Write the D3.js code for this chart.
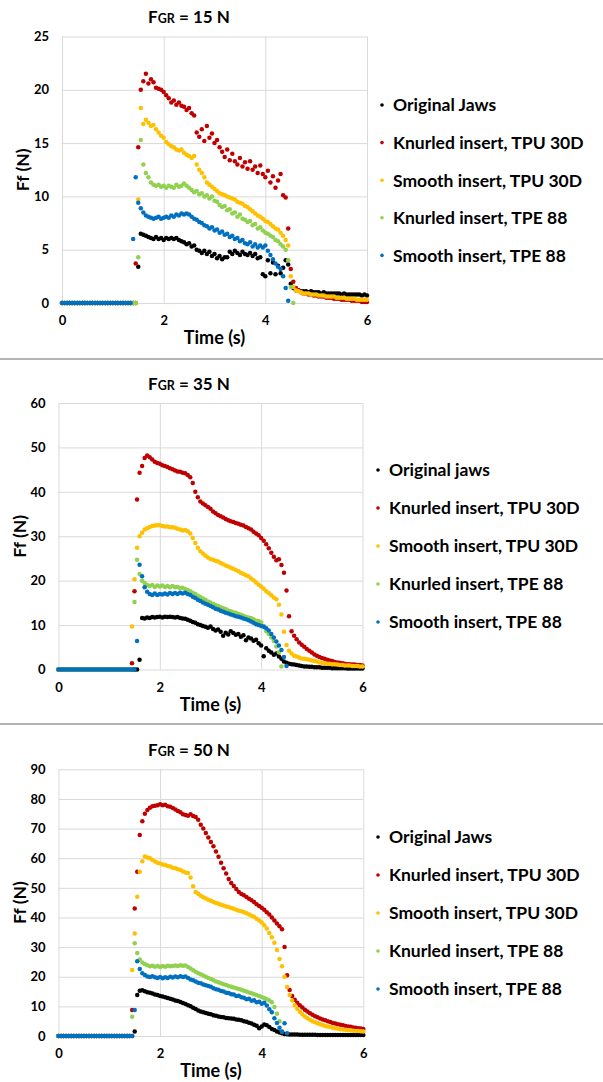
<!DOCTYPE html>
<html>
<head>
<meta charset="utf-8">
<script src="https://cdn.jsdelivr.net/npm/d3@7"></script>
<style>
  body { margin: 0; background: #fff; }
  svg text { font-family: Lato, 'Open Sans', sans-serif; font-weight: bold; fill: #000; }
</style>
</head>
<body>
<div id="chart"></div>
<script>
// sample times (s), one reading every 0.05 s
const time = [
  0, 0.05, 0.1, 0.15, 0.2, 0.25, 0.3, 0.35, 0.4, 0.45,
  0.5, 0.55, 0.6, 0.65, 0.7, 0.75, 0.8, 0.85, 0.9, 0.95,
  1, 1.05, 1.1, 1.15, 1.2, 1.25, 1.3, 1.35, 1.4, 1.45,
  1.5, 1.55, 1.6, 1.65, 1.7, 1.75, 1.8, 1.85, 1.9, 1.95,
  2, 2.05, 2.1, 2.15, 2.2, 2.25, 2.3, 2.35, 2.4, 2.45,
  2.5, 2.55, 2.6, 2.65, 2.7, 2.75, 2.8, 2.85, 2.9, 2.95,
  3, 3.05, 3.1, 3.15, 3.2, 3.25, 3.3, 3.35, 3.4, 3.45,
  3.5, 3.55, 3.6, 3.65, 3.7, 3.75, 3.8, 3.85, 3.9, 3.95,
  4, 4.05, 4.1, 4.15, 4.2, 4.25, 4.3, 4.35, 4.4, 4.45,
  4.5, 4.55, 4.6, 4.65, 4.7, 4.75, 4.8, 4.85, 4.9, 4.95,
  5, 5.05, 5.1, 5.15, 5.2, 5.25, 5.3, 5.35, 5.4, 5.45,
  5.5, 5.55, 5.6, 5.65, 5.7, 5.75, 5.8, 5.85, 5.9, 5.95,
  6
]

const xTicks = [0, 2, 4, 6]
const yTicks15 = [0, 5, 10, 15, 20, 25]
const yTicks35 = [0, 10, 20, 30, 40, 50, 60]
const yTicks50 = [0, 10, 20, 30, 40, 50, 60, 70, 80, 90]

const names15 = ['Original Jaws', 'Knurled insert, TPU 30D', 'Smooth insert, TPU 30D', 'Knurled insert, TPE 88', 'Smooth insert, TPE 88']
const names35 = ['Original jaws', 'Knurled insert, TPU 30D', 'Smooth insert, TPU 30D', 'Knurled insert, TPE 88', 'Smooth insert, TPE 88']
const names50 = ['Original Jaws', 'Knurled insert, TPU 30D', 'Smooth insert, TPU 30D', 'Knurled insert, TPE 88', 'Smooth insert, TPE 88']

const colors = ['#000000', '#c00000', '#ffc000', '#92d050', '#0070c0']

// ---- FGR = 15 N ----
const jaws15 = [
  0, 0, 0, 0, 0, 0, 0, 0, 0, 0, 0, 0, 0, 0, 0, 0, 0, 0, 0, 0, 0, 0, 0, 0, 0, 0, 0, 0, 0, 0,
  3.4, 6.5, 6.4, 6.3, 6.2, 6.1, 6.0, 6.2, 6.0, 6.1,
  5.9, 6.1, 6.0, 6.1, 6.0, 6.1, 5.9, 5.8, 5.7, 5.5,
  5.6, 5.3, 5.4, 5.0, 4.9, 4.7, 4.9, 4.6, 4.8, 4.4,
  4.6, 4.2, 4.4, 4.1, 4.3, 4.3, 4.8, 4.6, 4.9, 4.7,
  4.5, 4.8, 4.6, 4.5, 4.7, 4.4, 4.6, 4.2, 4.3, 2.7,
  2.5, 4.0, 2.8, 3.8, 2.7, 3.5, 2.8, 3.3, 4.0, 3.6,
  1.8, 1.4, 1.2, 1.2, 1.1, 1.1, 1.1, 1.0, 1.1, 1.0,
  1.0, 1.0, 0.9, 1.0, 0.9, 0.9, 0.9, 0.9, 0.9, 0.9,
  0.8, 0.9, 0.8, 0.8, 0.8, 0.8, 0.8, 0.8, 0.7, 0.8,
  0.7
]
const knurledTpu15 = [
  0, 0, 0, 0, 0, 0, 0, 0, 0, 0, 0, 0, 0, 0, 0, 0, 0, 0, 0, 0, 0, 0, 0, 0, 0, 0, 0, 0, 0,
  3.7, 14.6, 20.0, 20.8, 21.5, 20.6, 21.0, 20.7, 20.2, 20.1, 20.0,
  19.8, 19.5, 19.2, 18.8, 19.0, 18.6, 18.8, 18.5, 18.4, 18.1,
  18.3, 17.8, 17.6, 16.0, 15.6, 16.3, 15.2, 16.6, 15.5, 15.9,
  15.0, 15.3, 14.6, 14.2, 13.7, 14.4, 13.4, 14.0, 13.3, 13.0,
  13.6, 12.8, 13.2, 12.6, 13.3, 12.5, 12.8, 12.2, 12.9, 12.1,
  11.8, 12.4, 11.3, 11.9, 10.8, 11.5, 12.1, 10.1, 9.9, 7.0,
  3.2, 2.0, 1.4, 1.2, 1.0, 0.9, 0.9, 0.8, 0.8, 0.7,
  0.7, 0.6, 0.6, 0.6, 0.5, 0.5, 0.5, 0.4, 0.4, 0.4,
  0.3, 0.3, 0.3, 0.3, 0.2, 0.2, 0.2, 0.2, 0.1, 0.1,
  0.1
]
const smoothTpu15 = [
  0, 0, 0, 0, 0, 0, 0, 0, 0, 0, 0, 0, 0, 0, 0, 0, 0, 0, 0, 0, 0, 0, 0, 0, 0, 0, 0, 0, 0, 0,
  9.7, 18.3, 16.8, 17.2, 16.9, 16.6, 16.7, 16.3, 16.0, 15.7,
  15.5, 15.1, 14.9, 14.7, 14.6, 14.4, 14.3, 14.4, 14.1, 13.9,
  13.8, 13.6, 13.8, 13.0, 12.5, 12.2, 11.8, 11.3, 11.1, 10.9,
  10.7, 10.5, 10.3, 10.2, 10.1, 10.0, 9.9, 9.8, 9.7, 9.5,
  9.4, 9.3, 9.1, 9.0, 8.8, 8.6, 8.4, 8.2, 8.1, 7.9,
  7.7, 7.6, 7.4, 7.2, 7.0, 6.9, 6.6, 6.3, 5.9, 5.4,
  2.5, 1.5, 1.2, 1.1, 1.0, 0.9, 0.9, 0.9, 0.8, 0.8,
  0.8, 0.7, 0.7, 0.7, 0.6, 0.6, 0.6, 0.6, 0.5, 0.5,
  0.5, 0.5, 0.4, 0.4, 0.4, 0.4, 0.3, 0.3, 0.3, 0.3,
  0.3
]
const knurledTpe15 = [
  0, 0, 0, 0, 0, 0, 0, 0, 0, 0, 0, 0, 0, 0, 0, 0, 0, 0, 0, 0, 0, 0, 0, 0, 0, 0, 0, 0, 0, 0,
  4.3, 15.3, 13.0, 12.2, 11.8, 11.3, 11.1, 11.0, 11.1, 10.9,
  11.0, 10.8, 11.0, 10.9, 10.8, 11.1, 10.9, 11.0, 11.2, 11.0,
  10.8, 10.6, 10.4, 10.5, 10.2, 10.3, 10.0, 10.1, 9.8, 10.0,
  9.6, 9.5, 9.2, 9.0, 9.1, 8.7, 8.8, 8.4, 8.5, 8.1,
  8.3, 7.9, 7.8, 7.6, 7.7, 7.3, 7.4, 7.0, 7.1, 6.8,
  6.6, 6.5, 6.3, 6.2, 5.9, 5.8, 5.5, 5.3, 5.0, 4.0,
  1.5, 0.0
]
const smoothTpe15 = [
  0, 0, 0, 0, 0, 0, 0, 0, 0, 0, 0, 0, 0, 0, 0, 0, 0, 0, 0, 0, 0, 0, 0, 0, 0, 0, 0, 0,
  6.0, 11.8, 9.4, 8.9, 8.5, 8.2, 8.1, 8.0, 7.9, 8.0, 8.1, 7.9,
  8.0, 8.1, 8.0, 8.2, 8.1, 8.3, 8.2, 8.4, 8.3, 8.4,
  8.3, 8.1, 7.9, 7.8, 7.6, 7.5, 7.3, 7.2, 7.0, 7.1,
  6.8, 6.9, 6.6, 6.7, 6.4, 6.5, 6.2, 6.3, 6.0, 6.1,
  5.8, 5.9, 5.6, 5.5, 5.7, 5.3, 5.5, 5.2, 5.4, 5.2,
  5.4, 4.9, 4.5, 4.1, 3.7, 3.4, 3.2, 2.5, 1.4, 0.2
]

// ---- FGR = 35 N ----
const jaws35 = [
  0, 0, 0, 0, 0, 0, 0, 0, 0, 0, 0, 0, 0, 0, 0, 0, 0, 0, 0, 0, 0, 0, 0, 0, 0, 0, 0, 0, 0, 0, 0, 0,
  2.2, 11.6, 11.5, 11.7, 11.6, 11.8, 11.7, 11.8,
  11.9, 11.7, 11.9, 11.8, 11.9, 11.8, 11.7, 11.8, 11.6, 11.5,
  11.4, 11.2, 11.0, 10.7, 10.5, 10.2, 10.0, 9.8, 9.6, 9.4,
  9.7, 9.1, 8.8, 9.0, 8.5, 7.6, 8.3, 7.9, 8.6, 8.2,
  7.8, 8.0, 7.4, 7.7, 6.6, 7.2, 7.0, 6.5, 6.7, 5.9,
  5.4, 3.0, 4.8, 4.2, 3.8, 3.3, 3.6, 2.9, 2.4, 1.8,
  1.5, 1.3, 1.2, 1.1, 1.0, 0.9, 0.8, 0.7, 0.7, 0.6,
  0.6, 0.5, 0.5, 0.5, 0.4, 0.4, 0.4, 0.4, 0.3, 0.3,
  0.3, 0.3, 0.3, 0.3, 0.2, 0.2, 0.2, 0.2, 0.2, 0.2,
  0.2
]
const knurledTpu35 = [
  0, 0, 0, 0, 0, 0, 0, 0, 0, 0, 0, 0, 0, 0, 0, 0, 0, 0, 0, 0, 0, 0, 0, 0, 0, 0, 0, 0, 0,
  1.4, 17.6, 38.3, 44.3, 45.8, 47.6, 48.2, 47.8, 47.3, 46.8, 46.5,
  46.3, 46.0, 45.8, 45.6, 45.3, 45.1, 44.8, 44.6, 44.5, 44.3,
  44.2, 43.8, 43.3, 42.0, 40.0, 38.8, 37.8, 37.4, 37.0, 36.6,
  36.2, 35.6, 35.2, 34.8, 34.5, 34.2, 33.9, 33.6, 33.4, 33.2,
  33.0, 32.8, 32.6, 32.4, 32.1, 31.8, 31.5, 31.0, 30.6, 30.2,
  29.6, 29.0, 28.2, 27.3, 26.3, 25.4, 24.6, 24.8, 23.5, 21.8,
  17.8, 12.0, 8.6, 7.6, 6.8, 6.1, 5.6, 5.1, 4.6, 4.2,
  3.8, 3.4, 3.1, 2.8, 2.6, 2.4, 2.2, 2.0, 1.9, 1.7,
  1.6, 1.5, 1.4, 1.3, 1.2, 1.2, 1.1, 1.1, 1.0, 1.0,
  0.9
]
const smoothTpu35 = [
  0, 0, 0, 0, 0, 0, 0, 0, 0, 0, 0, 0, 0, 0, 0, 0, 0, 0, 0, 0, 0, 0, 0, 0, 0, 0, 0, 0, 0,
  9.7, 20.3, 27.4, 30.0, 30.8, 31.5, 31.8, 32.1, 32.3, 32.4, 32.5,
  32.5, 32.3, 32.2, 32.2, 32.0, 32.0, 31.9, 31.7, 31.5, 31.3,
  31.4, 31.1, 30.6, 29.6, 28.5, 27.4, 26.6, 26.1, 25.6, 25.2,
  24.9, 24.7, 24.5, 24.3, 24.0, 23.7, 23.4, 23.2, 22.9, 22.7,
  22.4, 22.1, 21.8, 21.5, 21.2, 21.0, 20.5, 20.1, 19.6, 19.1,
  18.7, 18.2, 17.6, 17.2, 16.7, 16.2, 15.8, 14.6, 12.4, 8.5,
  5.5, 4.2, 3.6, 3.1, 2.9, 2.7, 2.5, 2.4, 2.3, 2.2,
  2.0, 1.9, 1.8, 1.6, 1.5, 1.4, 1.3, 1.3, 1.2, 1.2,
  1.1, 1.0, 1.0, 0.9, 0.9, 0.9, 0.8, 0.8, 0.8, 0.7,
  0.7
]
const knurledTpe35 = [
  0, 0, 0, 0, 0, 0, 0, 0, 0, 0, 0, 0, 0, 0, 0, 0, 0, 0, 0, 0, 0, 0, 0, 0, 0, 0, 0, 0, 0, 0,
  15.2, 24.7, 21.5, 20.0, 19.5, 19.0, 18.8, 19.0, 18.6, 18.9,
  18.7, 18.9, 18.6, 18.8, 18.5, 18.8, 18.5, 18.6, 18.3, 18.4,
  18.1, 17.9, 17.6, 17.3, 17.0, 16.6, 16.3, 16.0, 15.7, 15.3,
  15.1, 14.8, 14.5, 14.3, 14.0, 13.8, 13.6, 13.3, 13.1, 12.9,
  12.8, 12.5, 12.3, 12.1, 11.9, 11.7, 11.6, 11.3, 11.0, 10.9,
  10.6, 9.8, 8.6, 8.0, 7.2, 6.4, 5.2, 3.9, 0.7
]
const smoothTpe35 = [
  0, 0, 0, 0, 0, 0, 0, 0, 0, 0, 0, 0, 0, 0, 0, 0, 0, 0, 0, 0, 0, 0, 0, 0, 0, 0, 0, 0, 0, 0, 0,
  6.4, 23.6, 21.0, 18.5, 17.5, 17.0, 16.8, 17.1, 16.8,
  17.0, 16.9, 17.1, 16.9, 17.2, 17.0, 17.2, 17.0, 17.3, 17.1,
  17.3, 17.0, 16.8, 16.4, 16.1, 15.7, 15.4, 15.1, 14.8, 14.6,
  14.3, 14.0, 13.7, 13.5, 13.2, 13.0, 12.8, 12.6, 12.4, 12.2,
  12.0, 11.9, 11.7, 11.5, 11.3, 11.1, 10.8, 10.5, 10.2, 10.0,
  9.8, 9.6, 9.3, 8.8, 8.0, 7.2, 6.3, 5.4, 4.4, 2.8,
  0.8
]

// ---- FGR = 50 N ----
const jaws50 = [
  0, 0, 0, 0, 0, 0, 0, 0, 0, 0, 0, 0, 0, 0, 0, 0, 0, 0, 0, 0, 0, 0, 0, 0, 0, 0, 0, 0, 0, 0,
  1.5, 13.8, 15.3, 15.4, 15.1, 14.8, 14.6, 14.3, 14.0, 13.8,
  13.5, 13.3, 13.1, 12.8, 12.6, 12.3, 12.0, 11.8, 11.5, 11.1,
  10.8, 10.4, 10.0, 9.5, 9.1, 8.6, 8.3, 8.0, 7.8, 7.5,
  7.3, 7.0, 6.8, 6.6, 6.4, 6.3, 6.1, 6.0, 5.9, 5.8,
  5.6, 5.5, 5.3, 5.0, 4.8, 4.5, 4.2, 3.8, 3.5, 2.6,
  3.2, 3.9, 3.6, 3.0, 2.4, 2.0, 1.5, 1.2, 0.9, 0.7,
  0.6, 0.5, 0.5, 0.5, 0.5, 0.4, 0.4, 0.4, 0.4, 0.4,
  0.4, 0.4, 0.3, 0.3, 0.3, 0.3, 0.3, 0.3, 0.3, 0.3,
  0.3, 0.3, 0.3, 0.3, 0.3, 0.3, 0.3, 0.3, 0.3, 0.3,
  0.3
]
const knurledTpu50 = [
  0, 0, 0, 0, 0, 0, 0, 0, 0, 0, 0, 0, 0, 0, 0, 0, 0, 0, 0, 0, 0, 0, 0, 0, 0, 0, 0, 0, 0,
  8.8, 43.0, 55.4, 67.8, 72.5, 75.0, 76.3, 77.0, 77.5, 77.7, 77.9,
  78.2, 77.9, 78.0, 77.5, 77.4, 76.9, 76.4, 75.9, 75.5, 74.8,
  74.6, 74.3, 74.8, 74.2, 73.9, 73.0, 71.3, 70.0, 68.5, 67.0,
  65.5, 64.0, 62.3, 60.5, 58.5, 56.6, 54.8, 53.0, 51.6, 50.6,
  49.6, 48.6, 47.9, 47.5, 46.9, 46.3, 45.8, 45.2, 44.5, 43.9,
  43.3, 42.6, 41.8, 41.0, 40.0, 39.0, 38.0, 37.0, 36.0, 30.0,
  20.5, 15.5, 13.5, 12.2, 11.2, 10.4, 9.6, 8.9, 8.3, 7.7,
  7.2, 6.7, 6.3, 5.9, 5.6, 5.3, 5.0, 4.7, 4.4, 4.2,
  4.0, 3.8, 3.6, 3.4, 3.2, 3.1, 2.9, 2.8, 2.6, 2.5,
  2.4
]
const smoothTpu50 = [
  0, 0, 0, 0, 0, 0, 0, 0, 0, 0, 0, 0, 0, 0, 0, 0, 0, 0, 0, 0, 0, 0, 0, 0, 0, 0, 0, 0, 0,
  22.3, 34.6, 47.0, 55.4, 59.0, 60.6, 60.2, 60.0, 59.4, 58.9, 58.5,
  58.2, 57.9, 57.7, 57.4, 57.2, 56.8, 56.6, 56.3, 56.0, 55.5,
  55.2, 55.0, 53.5, 50.5, 48.6, 48.0, 47.3, 46.8, 46.4, 46.0,
  45.6, 45.2, 44.9, 44.6, 44.3, 44.0, 43.7, 43.5, 43.2, 42.9,
  42.6, 42.3, 42.1, 41.8, 41.4, 41.0, 40.6, 40.2, 39.6, 39.0,
  38.3, 37.4, 36.3, 34.8, 33.3, 31.5, 29.0, 26.0, 23.5, 20.0,
  16.5, 13.8, 12.0, 10.4, 9.2, 8.2, 7.3, 6.6, 6.0, 5.5,
  5.0, 4.6, 4.3, 4.0, 3.7, 3.4, 3.2, 3.0, 2.8, 2.6,
  2.5, 2.3, 2.2, 2.1, 2.0, 1.9, 1.8, 1.7, 1.7, 1.6,
  1.5
]
const knurledTpe50 = [
  0, 0, 0, 0, 0, 0, 0, 0, 0, 0, 0, 0, 0, 0, 0, 0, 0, 0, 0, 0, 0, 0, 0, 0, 0, 0, 0, 0, 0,
  6.5, 31.3, 28.0, 25.8, 24.8, 24.3, 23.9, 23.5, 23.7, 23.4, 23.6,
  23.3, 23.6, 23.4, 23.7, 23.5, 23.6, 23.8, 23.6, 23.9, 23.7,
  23.8, 23.3, 22.8, 22.2, 21.7, 21.2, 20.8, 20.4, 20.0, 19.6,
  19.2, 18.8, 18.4, 18.1, 17.8, 17.5, 17.2, 16.9, 16.6, 16.4,
  16.1, 15.9, 15.6, 15.3, 15.0, 14.7, 14.4, 14.1, 13.8, 13.5,
  13.2, 12.8, 12.4, 12.0, 11.4, 9.8, 7.5, 5.0, 1.5
]
const smoothTpe50 = [
  0, 0, 0, 0, 0, 0, 0, 0, 0, 0, 0, 0, 0, 0, 0, 0, 0, 0, 0, 0, 0, 0, 0, 0, 0, 0, 0, 0, 0, 0,
  8.8, 25.2, 22.6, 21.2, 20.6, 20.1, 19.9, 20.2, 19.8, 19.6,
  19.9, 19.5, 19.8, 19.6, 20.0, 19.7, 20.1, 19.8, 20.2, 19.9,
  20.1, 19.6, 19.1, 18.8, 18.4, 18.0, 17.8, 17.4, 17.1, 16.9,
  16.6, 16.1, 15.8, 15.6, 15.2, 15.0, 14.6, 14.5, 14.1, 14.0,
  13.5, 13.6, 13.1, 12.9, 12.4, 12.6, 11.9, 12.1, 11.4, 11.6,
  10.9, 11.2, 10.3, 9.0, 8.0, 6.0, 4.4, 2.8, 1.5, 4.3,
  0.9
]

const svg = d3
  .select('#chart')
  .append('svg')
  .attr('width', 603)
  .attr('height', 1082)

// panel separators
svg
  .selectAll('.sep')
  .data([359, 724])
  .enter()
  .append('line')
  .attr('x1', 0)
  .attr('x2', 603)
  .attr('y1', d => d)
  .attr('y2', d => d)
  .attr('stroke', '#b4b4b4')
  .attr('stroke-width', 2)

const panels = [
  {
    force: '15', yTicks: yTicks15, names: names15,
    series: [jaws15, knurledTpu15, smoothTpu15, knurledTpe15, smoothTpe15],
    left: 62, right: 367, top: 36.5, bottom: 303, labelX: 29,
    titleY: 23, legendX: 382, legendY: 105, legendStep: 37.6
  },
  {
    force: '35', yTicks: yTicks35, names: names35,
    series: [jaws35, knurledTpu35, smoothTpu35, knurledTpe35, smoothTpe35],
    left: 58.5, right: 362.5, top: 403, bottom: 669.5, labelX: 25.5,
    titleY: 390, legendX: 378, legendY: 470, legendStep: 38
  },
  {
    force: '50', yTicks: yTicks50, names: names50,
    series: [jaws50, knurledTpu50, smoothTpu50, knurledTpe50, smoothTpe50],
    left: 58.5, right: 363.3, top: 769.3, bottom: 1036, labelX: 25.5,
    titleY: 756, legendX: 378, legendY: 837, legendStep: 38
  }
]

panels.forEach(drawPanel)

function drawPanel(p) {
  const width = p.right - p.left
  const height = p.bottom - p.top

  const g = svg.append('g').attr('transform', `translate(${p.left},${p.top})`)

  const xPositionScale = d3.scaleLinear().domain([0, 6]).range([0, width])
  const yPositionScale = d3
    .scaleLinear()
    .domain([0, d3.max(p.yTicks)])
    .range([height, 0])

  // gridlines + tick labels
  const yAxis = d3
    .axisLeft(yPositionScale)
    .tickValues(p.yTicks)
    .tickFormat(d3.format('d'))
    .tickSize(-width)
    .tickPadding(13)
  g.append('g').attr('class', 'axis y-axis').call(yAxis)

  const xAxis = d3
    .axisBottom(xPositionScale)
    .tickValues(xTicks)
    .tickFormat(d3.format('d'))
    .tickSize(-height)
    .tickPadding(13)
  g.append('g')
    .attr('class', 'axis x-axis')
    .attr('transform', `translate(0,${height})`)
    .call(xAxis)

  g.selectAll('.domain').remove()
  g.selectAll('.tick line').attr('stroke', '#d9d9d9').attr('stroke-width', 1)
  g.selectAll('.tick text')
    .attr('font-size', 13)
    .attr('font-family', 'Lato, sans-serif')
    .attr('font-weight', 'bold')
    .attr('fill', '#000')

  // dots, drawn series by series so later ones sit on top
  p.series.forEach((values, i) => {
    g.append('g')
      .selectAll('circle')
      .data(values)
      .enter()
      .append('circle')
      .attr('cx', (d, j) => xPositionScale(time[j]))
      .attr('cy', d => yPositionScale(d))
      .attr('r', 2.25)
      .attr('fill', colors[i])
  })

  // title
  const title = svg
    .append('text')
    .attr('x', 189)
    .attr('y', p.titleY)
    .attr('text-anchor', 'middle')
    .attr('font-size', 17)
  title.append('tspan').text('F')
  title.append('tspan').attr('font-size', 12.5).text('GR')
  title.append('tspan').text(` = ${p.force} N`)

  // axis titles
  svg
    .append('text')
    .attr('x', p.left + width / 2)
    .attr('y', p.bottom + 41)
    .attr('text-anchor', 'middle')
    .attr('font-size', 18)
    .text('Time (s)')

  svg
    .append('text')
    .attr('transform', `translate(${p.labelX},${p.top + height / 2}) rotate(-90)`)
    .attr('text-anchor', 'middle')
    .attr('font-size', 17.5)
    .text('Ff (N)')

  // legend
  const legend = svg
    .append('g')
    .attr('transform', `translate(${p.legendX},${p.legendY})`)

  p.names.forEach((name, i) => {
    legend
      .append('circle')
      .attr('cx', 0)
      .attr('cy', i * p.legendStep)
      .attr('r', 1.8)
      .attr('fill', colors[i])
    legend
      .append('text')
      .attr('x', 11)
      .attr('y', i * p.legendStep)
      .attr('dy', '0.36em')
      .attr('font-size', 17.5)
      .text(name)
  })
}
</script>
</body>
</html>
